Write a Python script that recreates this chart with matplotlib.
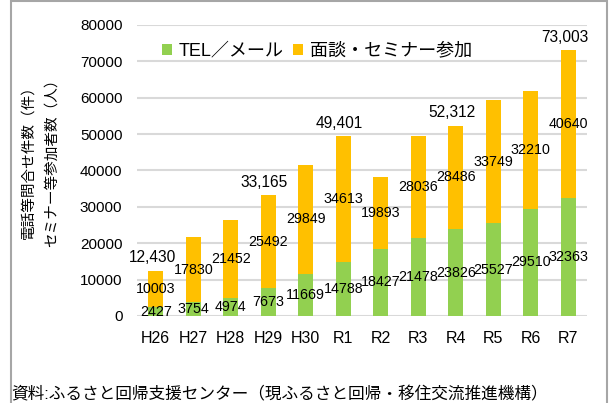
import matplotlib.pyplot as plt
from matplotlib.patches import Rectangle
import numpy as np

plt.rcParams['font.family'] = ['Liberation Sans', 'Noto Sans CJK JP', 'DejaVu Sans']

years = ['H26', 'H27', 'H28', 'H29', 'H30', 'R1', 'R2', 'R3', 'R4', 'R5', 'R6', 'R7']
tel_mail = [2427, 3754, 4974, 7673, 11669, 14788, 18427, 21478, 23826, 25527, 29510, 32363]
seminar = [10003, 17830, 21452, 25492, 29849, 34613, 19893, 28036, 28486, 33749, 32210, 40640]
total_shown = {'H26': '12,430', 'H29': '33,165', 'R1': '49,401', 'R4': '52,312', 'R7': '73,003'}

green = '#92D050'
orange = '#FFC000'

fig = plt.figure(figsize=(6.09, 4.03), dpi=100)
ax = fig.add_axes([0.225, 0.216, 0.739, 0.722])

x = np.arange(len(years))
tel = np.array(tel_mail)
sem = np.array(seminar)

ax.bar(x, tel, width=0.4, color=green, label='TEL／メール', zorder=3)
ax.bar(x, sem, width=0.4, bottom=tel, color=orange, label='面談・セミナー参加', zorder=3)

for i in range(len(years)):
    ax.text(x[i], tel[i] / 2, str(tel[i]), ha='center', va='center', fontsize=10.3, zorder=4)
    ax.text(x[i], tel[i] + sem[i] / 2, str(sem[i]), ha='center', va='center', fontsize=10.3, zorder=4)
    if years[i] in total_shown:
        ax.text(x[i] - 0.1, tel[i] + sem[i] + 1500, total_shown[years[i]], ha='center', va='bottom',
                fontsize=11.2, zorder=4)

ax.set_xlim(-0.5, len(years) - 0.5)
ax.set_ylim(0, 80000)
ax.set_yticks(np.arange(0, 80001, 10000))
ax.set_xticks(x)
ax.set_xticklabels(years, fontsize=11.5)
ax.tick_params(axis='y', labelsize=11, length=0, pad=10.5)
ax.tick_params(axis='x', length=0, pad=11)
ax.grid(axis='y', color='#D9D9D9', linewidth=1.5, zorder=0)
for s in ax.spines.values():
    s.set_visible(False)

ax.set_ylabel('電話等問合せ件数（件）\nセミナー等参加者数（人）', fontsize=10.5, linespacing=1.8)
ax.yaxis.set_label_coords(-0.174, 0.54)

leg = ax.legend(loc='upper left', bbox_to_anchor=(0.02, 0.995), ncol=2, frameon=False, fontsize=13,
                handlelength=0.55, handleheight=0.55, handletextpad=0.35, columnspacing=0.55)

fig.text(0.018, 0.022, '資料:ふるさと回帰支援センター（現ふるさと回帰・移住交流推進機構）', fontsize=12,
         va='center', ha='left')

fig.patches.append(Rectangle((0.018, -0.1), 0.978, 1.097, transform=fig.transFigure, fill=False,
                             edgecolor='#A6A6A6', linewidth=1.5))

plt.savefig('out.png', dpi=100)
